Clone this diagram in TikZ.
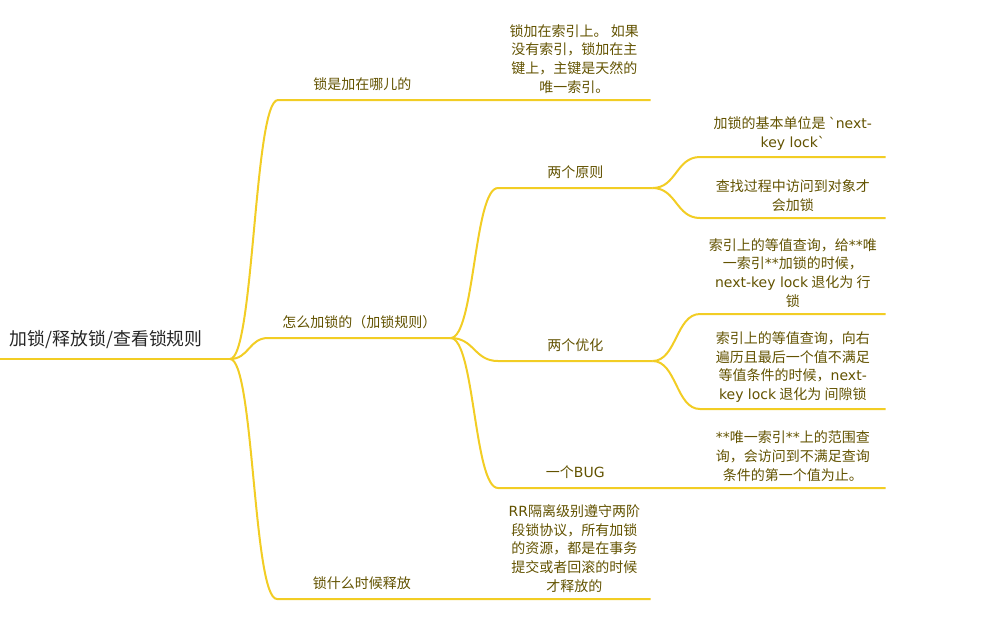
\documentclass[tikz,border=0pt]{standalone}
\usepackage{fontspec}
\setmainfont{Noto Sans CJK SC}
\newfontfamily\latin{DejaVu Sans}
\definecolor{limbgold}{RGB}{242,205,36}
\definecolor{twigtext}{RGB}{98,82,0}

\begin{document}
\begin{tikzpicture}[x=0.75pt,y=-0.75pt,
    topic/.style={anchor=south west,inner xsep=0pt,inner ysep=6.5pt,align=center,
        text=twigtext,font=\fontsize{10.5pt}{14pt}\selectfont},
    leaf/.style={topic,inner ysep=4.8pt},
    limb/.style={draw=limbgold,line width=1.5pt}]
\useasboundingbox (0,0) rectangle (987,637);

\node[topic,minimum width=159pt,inner ysep=7.5pt,text=black!85,
    font=\fontsize{13.4pt}{17pt}\selectfont] (root) at (0,359) {加锁/释放锁/查看锁规则};
\coordinate (hub) at (230,359);

\node[topic,minimum width=126pt] (where) at (278,100) {锁是加在哪儿的};
\node[leaf,minimum width=114pt] (whereleaf) at (498,100) {锁加在索引上。 如果\\没有索引，锁加在主\\键上，主键是天然的\\唯一索引。};
\node[topic,minimum width=136.5pt] (how) at (268,338) {怎么加锁的（加锁规则）};
\node[topic,minimum width=126.75pt] (release) at (277,599) {锁什么时候释放};
\node[leaf,minimum width=114pt] (releaseleaf) at (498,599) {{\latin RR}隔离级别遵守两阶\\段锁协议，所有加锁\\的资源，都是在事务\\提交或者回滚的时候\\才释放的};

\node[topic,minimum width=115.5pt] (rules) at (498,188) {两个原则};
\node[topic,minimum width=115.5pt] (tweaks) at (498,361) {两个优化};
\node[topic,minimum width=115.5pt] (bug) at (498,488) {一个{\latin BUG}};

\node[leaf,minimum width=138.75pt] (unit) at (700,157) {加锁的基本单位是 {\latin\textasciigrave next-}\\{\latin key lock\textasciigrave}};
\node[leaf,minimum width=138.75pt] (visit) at (700,218) {查找过程中访问到对象才\\会加锁};
\node[leaf,minimum width=138.75pt] (rowlock) at (700,314) {索引上的等值查询，给{\latin **}唯\\一索引{\latin **}加锁的时候，\\{\latin next-key lock} 退化为 行\\锁};
\node[leaf,minimum width=138.75pt] (gaplock) at (700,409) {索引上的等值查询，向右\\遍历且最后一个值不满足\\等值条件的时候，{\latin next-}\\{\latin key lock} 退化为 间隙锁};
\node[leaf,minimum width=138.75pt] (bugleaf) at (700,488) {{\latin **}唯一索引{\latin **}上的范围查\\询，会访问到不满足查询\\条件的第一个值为止。};

% first level
\draw[limb] (root.south west) -- (hub);
\draw[limb] (hub) .. controls +(24,0) and +(-24,0) .. (where.south west) -- (where.south east) -- (whereleaf.south west) -- (whereleaf.south east);
\draw[limb] (hub) .. controls +(19,0) and +(-19,0) .. (how.south west) -- (how.south east);
\draw[limb] (hub) .. controls +(24,0) and +(-24,0) .. (release.south west) -- (release.south east) -- (releaseleaf.south west) -- (releaseleaf.south east);

% second level
\draw[limb] (how.south east) .. controls +(24,0) and +(-24,0) .. (rules.south west) -- (rules.south east);
\draw[limb] (how.south east) .. controls +(24,0) and +(-24,0) .. (tweaks.south west) -- (tweaks.south east);
\draw[limb] (how.south east) .. controls +(24,0) and +(-24,0) .. (bug.south west) -- (bug.south east) -- (bugleaf.south west) -- (bugleaf.south east);

% third level
\draw[limb] (rules.south east) .. controls +(24,0) and +(-24,0) .. (unit.south west) -- (unit.south east);
\draw[limb] (rules.south east) .. controls +(24,0) and +(-24,0) .. (visit.south west) -- (visit.south east);
\draw[limb] (tweaks.south east) .. controls +(24,0) and +(-24,0) .. (rowlock.south west) -- (rowlock.south east);
\draw[limb] (tweaks.south east) .. controls +(24,0) and +(-24,0) .. (gaplock.south west) -- (gaplock.south east);
\end{tikzpicture}
\end{document}
